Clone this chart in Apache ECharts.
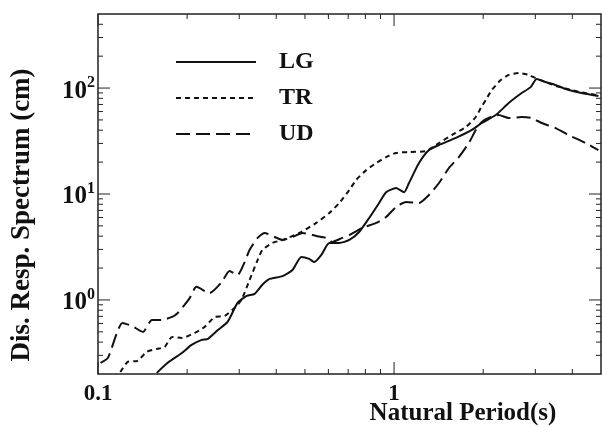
<!DOCTYPE html>
<html>
<head>
<meta charset="utf-8">
<script src="https://cdn.jsdelivr.net/npm/echarts@6/dist/echarts.min.js"></script>
<style>
  html, body { margin: 0; padding: 0; background: #fff; }
  #chart { width: 602px; height: 427px; }
</style>
</head>
<body>
<div id="chart"></div>
<script>
// Displacement response spectra (cm) against natural period (s), three components.
const lgPeriod = [0.158,0.172,0.192,0.207,0.224,0.235,0.254,0.274,0.296,0.318,0.338,0.359,0.380,0.420,0.454,0.486,0.517,0.538,0.568,0.604,0.653,0.706,0.762,0.824,0.890,0.940,1.016,1.081,1.123,1.214,1.312,1.418,1.617,1.831,1.978,2.205,2.439,2.698,2.893,3.031,3.249,3.512,3.795,4.295,4.900];
const lgDisp   = [0.205,0.255,0.316,0.376,0.420,0.429,0.521,0.620,0.937,1.09,1.14,1.39,1.58,1.68,1.92,2.54,2.44,2.28,2.66,3.45,3.45,3.68,4.38,5.94,8.23,10.4,11.4,10.4,12.7,19.6,26.0,29.0,33.8,40.2,46.8,55.6,72.2,89.7,102,122,114,107,97.9,89.7,84.1];

const trPeriod = [0.119,0.126,0.136,0.146,0.158,0.168,0.178,0.192,0.212,0.229,0.248,0.268,0.289,0.305,0.325,0.346,0.359,0.388,0.420,0.479,0.546,0.604,0.653,0.706,0.745,0.805,0.870,0.940,1.016,1.123,1.282,1.418,1.568,1.748,1.888,1.963,2.041,2.138,2.292,2.439,2.636,2.848,3.007,3.249,3.512,3.795,4.295,4.900];
const trDisp   = [0.209,0.260,0.266,0.323,0.345,0.360,0.448,0.438,0.488,0.556,0.691,0.707,0.840,1.00,1.54,2.38,2.96,3.45,3.68,4.29,5.33,6.62,8.23,10.9,13.6,16.8,19.6,22.3,24.4,24.9,25.4,30.3,36.0,42.9,53.3,64.8,77.1,95.7,119,133,139,133,124,114,105,99,91,85.5];

const udPeriod = [0.102,0.108,0.121,0.130,0.142,0.152,0.164,0.178,0.186,0.196,0.204,0.215,0.238,0.262,0.278,0.296,0.313,0.325,0.346,0.365,0.395,0.420,0.454,0.490,0.546,0.590,0.618,0.668,0.706,0.780,0.870,0.940,1.016,1.098,1.214,1.312,1.418,1.532,1.655,1.789,1.888,1.978,2.121,2.257,2.439,2.698,2.915,3.150,3.512,3.884,4.431,4.900];
const udDisp   = [0.255,0.284,0.607,0.569,0.499,0.648,0.648,0.691,0.754,0.897,1.04,1.33,1.16,1.48,1.88,1.72,2.28,2.96,3.85,4.29,3.93,3.68,3.93,4.29,4.02,3.85,3.53,3.85,4.10,4.78,5.33,6.07,7.54,8.41,8.23,9.79,12.7,17.6,22.3,30.3,40.2,47.8,53.3,55.6,52.1,53.3,52.1,46.8,41.9,36.0,30.3,26.0];

const seriesNames = ['LG', 'TR', 'UD'];

// Axis ranges and tick positions (log scales)
const xRange = [0.1, 5];
const yRange = [0.2, 500];
const xMajorTicks = [0.1, 1];
const xMinorTicks = [0.2,0.3,0.4,0.5,0.6,0.7,0.8,0.9,2,3,4];
const yMajorTicks = [1, 10, 100];
const yMinorTicks = [0.3,0.4,0.5,0.6,0.7,0.8,0.9,2,3,4,5,6,7,8,9,20,30,40,50,60,70,80,90,200,300,400];

const FONT = '"Liberation Serif", "Times New Roman", serif';
const INK = '#111';

function zip(xs, ys) { return xs.map((x, i) => [x, ys[i]]); }

function decade(v) {
  const e = Math.log10(v);
  const r = Math.round(e);
  return Math.abs(e - r) < 1e-6 ? r : null;
}

// Inward ticks on all four sides of the frame
function renderTicks(params, api) {
  const children = [];
  const bl = api.coord([xRange[0], yRange[0]]);
  const tr = api.coord([xRange[1], yRange[1]]);
  const yb = bl[1], yt = tr[1], xl = bl[0], xr = tr[0];
  const seg = (a, b, c, d) => children.push({
    type: 'line', shape: { x1: a, y1: b, x2: c, y2: d },
    style: { stroke: '#222', lineWidth: 1 }
  });
  xMajorTicks.forEach(v => { const x = api.coord([v, yRange[0]])[0]; seg(x, yb, x, yb - 12); seg(x, yt, x, yt + 12); });
  xMinorTicks.forEach(v => { const x = api.coord([v, yRange[0]])[0]; seg(x, yb, x, yb - 5); seg(x, yt, x, yt + 5); });
  yMajorTicks.forEach(v => { const y = api.coord([xRange[0], v])[1]; seg(xl, y, xl + 12, y); seg(xr, y, xr - 12, y); });
  yMinorTicks.forEach(v => { const y = api.coord([xRange[0], v])[1]; seg(xl, y, xl + 5, y); seg(xr, y, xr - 5, y); });
  return { type: 'group', children };
}

const chart = echarts.init(document.getElementById('chart'), null, { renderer: 'canvas' });

chart.setOption({
  animation: false,
  backgroundColor: '#fff',
  grid: {
    left: 98, right: 1, top: 14, bottom: 53,
    show: true, borderColor: '#222', borderWidth: 1.5,
    containLabel: false, outerBoundsMode: 'none'
  },
  xAxis: {
    type: 'log', logBase: 10, min: xRange[0], max: xRange[1],
    axisLine: { show: false }, axisTick: { show: false }, splitLine: { show: false },
    axisLabel: {
      margin: 9, color: INK, fontFamily: FONT, fontWeight: 'bold', fontSize: 23,
      showMinLabel: true, showMaxLabel: true,
      formatter: v => {
        const e = decade(v);
        if (e === -1) return '0.1';
        if (e === 0) return '1';
        return '';
      }
    }
  },
  yAxis: {
    type: 'log', logBase: 10, min: yRange[0], max: yRange[1],
    axisLine: { show: false }, axisTick: { show: false }, splitLine: { show: false },
    axisLabel: {
      margin: 3, color: INK,
      formatter: v => {
        const e = decade(v);
        return e === null ? '' : '{b|10}{s|' + e + '}';
      },
      rich: {
        b: { fontFamily: FONT, fontWeight: 'bold', fontSize: 25, color: INK, lineHeight: 26, padding: [6, 0, 0, 0] },
        s: { fontFamily: FONT, fontWeight: 'bold', fontSize: 16, color: INK, verticalAlign: 'top', lineHeight: 16 }
      }
    }
  },
  legend: {
    data: seriesNames,
    orient: 'vertical',
    left: 170, top: 45,
    itemWidth: 80, itemHeight: 24, itemGap: 12,
    itemStyle: { opacity: 0, borderWidth: 0 },
    textStyle: { fontFamily: FONT, fontWeight: 'bold', fontSize: 24, color: INK, padding: [0, 0, 0, 18] }
  },
  graphic: [
    {
      type: 'text', x: 22, y: 215, rotation: Math.PI / 2,
      style: {
        text: 'Dis. Resp. Spectrum (cm)', fill: INK,
        font: 'bold 27px ' + FONT, align: 'center', verticalAlign: 'middle'
      }
    },
    {
      type: 'text', x: 463, y: 414,
      style: {
        text: 'Natural Period(s)', fill: INK,
        font: 'bold 25px ' + FONT, align: 'center', verticalAlign: 'middle'
      }
    }
  ],
  series: [
    {
      name: 'LG', type: 'line', data: zip(lgPeriod, lgDisp), symbol: 'none', smooth: 0.2,
      itemStyle: { color: INK }, lineStyle: { color: INK, width: 2, type: 'solid' }
    },
    {
      name: 'TR', type: 'line', data: zip(trPeriod, trDisp), symbol: 'none', smooth: 0.2,
      itemStyle: { color: INK }, lineStyle: { color: INK, width: 2, type: [5, 4] }
    },
    {
      name: 'UD', type: 'line', data: zip(udPeriod, udDisp), symbol: 'none', smooth: 0.2,
      itemStyle: { color: INK }, lineStyle: { color: INK, width: 2, type: [14, 6] }
    },
    {
      type: 'custom', silent: true, clip: false, z: 5,
      renderItem: renderTicks,
      data: [[xRange[0], yRange[0]]]
    }
  ]
});
</script>
</body>
</html>
